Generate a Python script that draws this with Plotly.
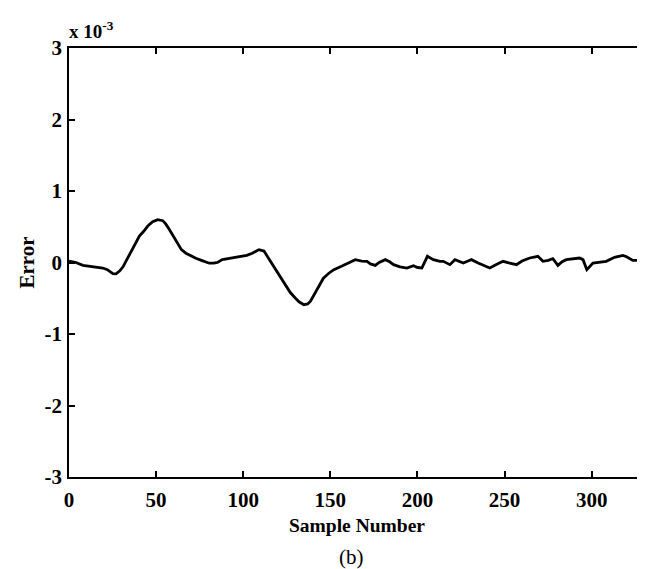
import plotly.graph_objects as go

# (x: sample number, y: error in units of 1e-3)
sample = [0, 4, 8, 12, 15.6, 19.4, 22, 25.2, 27, 29, 31, 32.8, 34.5, 36.6, 38.5, 40.4, 43, 45.2, 48, 50.9, 53.8,
          55.5, 57.6, 60, 62.4, 64.5, 67.1, 70, 72.8, 76, 80.5, 83, 85.2, 88, 90, 93, 96, 99.5, 102, 105.2,
          107, 109, 111.9, 114, 116, 118.6, 121, 124.3, 127, 130, 132, 134.8, 137, 138.6, 141, 143.4, 146,
          149.1, 152, 156.7, 160, 164.3, 168, 171, 173, 175.8, 178, 181.5, 184, 186.3, 190, 193.9, 197.7,
          200, 202.5, 204, 205.7, 209.1, 212.9, 214.8, 218.6, 221.5, 224, 226.3, 229, 231, 234.8, 238,
          241.5, 245, 249.1, 253, 256.8, 260, 264.4, 269.1, 272, 275, 277.7, 280.6, 283, 285.4, 289, 293,
          295, 297.2, 300.7, 304, 308.3, 313.1, 317.9, 320, 323.6, 326, 330]
error = [0.02, 0.0, -0.04, -0.05, -0.063, -0.077, -0.1, -0.157, -0.16, -0.12, -0.06, 0.02, 0.1, 0.2, 0.29,
         0.37, 0.44, 0.51, 0.57, 0.6, 0.585, 0.54, 0.46, 0.36, 0.25, 0.18, 0.13, 0.09, 0.06, 0.03, -0.01,
         -0.01, 0.0, 0.04, 0.05, 0.06, 0.07, 0.09, 0.1, 0.13, 0.15, 0.18, 0.16, 0.08, 0.0, -0.1, -0.2, -0.33,
         -0.42, -0.5, -0.55, -0.59, -0.58, -0.54, -0.44, -0.33, -0.22, -0.15, -0.1, -0.05, -0.01, 0.04,
         0.02, 0.015, -0.02, -0.04, 0.0, 0.04, 0.01, -0.03, -0.06, -0.077, -0.045, -0.07, -0.077, 0.0,
         0.087, 0.04, 0.017, 0.017, -0.03, 0.04, 0.02, -0.007, 0.02, 0.04, -0.007, -0.04, -0.077, -0.03,
         0.017, -0.01, -0.03, 0.02, 0.063, 0.087, 0.017, 0.03, 0.053, -0.04, 0.01, 0.04, 0.05, 0.063,
         0.04, -0.1, -0.007, 0.0, 0.017, 0.073, 0.1, 0.08, 0.03, 0.03, 0.03]

x_ticks = [0, 50, 100, 150, 200, 250, 300]
y_ticks = [-3, -2, -1, 0, 1, 2, 3]
y_tick_text = ["-3", "-2", "-1", "0", "1", "2", "3"]

FONT = "Liberation Serif"

fig = go.Figure()
fig.add_trace(go.Scatter(x=sample, y=error, mode="lines",
                         line=dict(color="black", width=2.8, shape="linear"),
                         showlegend=False, hoverinfo="skip"))

axis_common = dict(showline=True, linecolor="black", linewidth=1.5, mirror="ticks",
                   ticks="inside", ticklen=6, tickwidth=1.5, tickcolor="black",
                   showgrid=False, zeroline=False,
                   tickfont=dict(family=FONT, size=21, color="black", weight="bold"))

fig.update_xaxes(range=[0, 330], tickvals=x_ticks, ticktext=[str(v) for v in x_ticks],
                 ticklabelstandoff=3, **axis_common)
fig.update_yaxes(range=[-3, 3], tickvals=y_ticks, ticktext=y_tick_text,
                 ticklabelstandoff=1, **axis_common)

fig.update_layout(
    width=645, height=569,
    margin=dict(l=61, r=7, t=40, b=100),
    paper_bgcolor="white", plot_bgcolor="white",
    annotations=[
        dict(text="<b>x 10<sup>-3</sup></b>", x=0, y=1, xref="paper", yref="paper",
             xanchor="left", yanchor="bottom", showarrow=False, xshift=-2, yshift=4,
             font=dict(family=FONT, size=19, color="black")),
        dict(text="<b>Sample Number</b>", x=0.5, y=0, xref="paper", yref="paper",
             xanchor="center", yanchor="middle", showarrow=False, yshift=-48,
             font=dict(family=FONT, size=19.5, color="black")),
        dict(text="<b>Error</b>", x=0, y=0.5, xref="paper", yref="paper", textangle=-90,
             xanchor="center", yanchor="middle", showarrow=False, xshift=-43,
             font=dict(family=FONT, size=21, color="black")),
        dict(text="(b)", x=0.5, y=0, xref="paper", yref="paper",
             xanchor="center", yanchor="middle", showarrow=False, yshift=-80, xshift=-5,
             font=dict(family=FONT, size=21, color="black")),
    ],
)

fig.write_html("out.html")
